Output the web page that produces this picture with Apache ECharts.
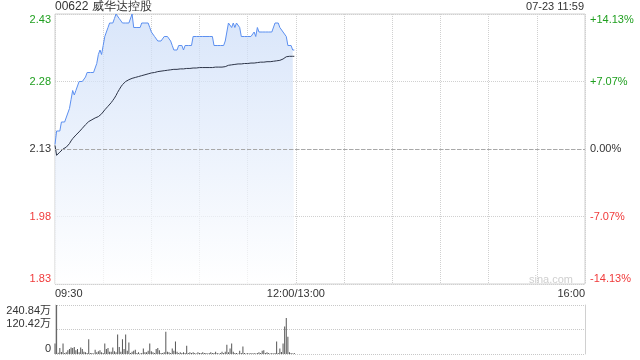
<!DOCTYPE html>
<html>
<head>
<meta charset="utf-8">
<script src="https://cdn.jsdelivr.net/npm/echarts@6/dist/echarts.min.js"></script>
<style>html,body{margin:0;padding:0;background:#fff}#c{width:640px;height:360px}</style>
</head>
<body>
<div id="c"></div>
<script>
// ---- data ----
const stockTitle = '00622 威华达控股';
const stampText = '07-23 11:59';
const prevClose = 2.13;
const priceStep = 0.15;
const priceTickLabels = ['1.83', '1.98', '2.13', '2.28', '2.43'];
const pctTickLabels = ['-14.13%', '-7.07%', '0.00%', '+7.07%', '+14.13%'];
const timeTickLabels = { 0: '09:30', 150: '12:00/13:00', 330: '16:00' };
const volTickLabels = { 0: '0', 120.42: '120.42万', 240.84: '240.84万' };
const volMax = 240.84;

// minute-by-minute price from 09:30 to 11:59
const price = [
  2.14, 2.17, 2.17, 2.17, 2.19, 2.19, 2.19, 2.19, 2.21, 2.22,
  2.24, 2.26, 2.25, 2.26, 2.27, 2.28, 2.28, 2.28, 2.28, 2.29,
  2.30, 2.30, 2.30, 2.30, 2.30, 2.31, 2.32, 2.34, 2.35, 2.34,
  2.36, 2.38, 2.39, 2.40, 2.41, 2.41, 2.41, 2.42, 2.43, 2.43,
  2.42, 2.42, 2.41, 2.41, 2.41, 2.41, 2.41, 2.41, 2.43, 2.40,
  2.40, 2.40, 2.40, 2.40, 2.41, 2.41, 2.41, 2.41, 2.41, 2.40,
  2.39, 2.39, 2.38, 2.38, 2.37, 2.37, 2.37, 2.37, 2.38, 2.38,
  2.38, 2.38, 2.37, 2.36, 2.35, 2.35, 2.35, 2.36, 2.36, 2.36,
  2.35, 2.36, 2.36, 2.36, 2.36, 2.36, 2.38, 2.38, 2.38, 2.38,
  2.38, 2.38, 2.38, 2.38, 2.38, 2.38, 2.38, 2.38, 2.38, 2.36,
  2.36, 2.36, 2.36, 2.36, 2.36, 2.36, 2.37, 2.39, 2.41, 2.41,
  2.40, 2.41, 2.40, 2.41, 2.41, 2.40, 2.38, 2.38, 2.38, 2.38,
  2.38, 2.38, 2.38, 2.38, 2.39, 2.38, 2.40, 2.39, 2.39, 2.39,
  2.39, 2.39, 2.39, 2.39, 2.39, 2.39, 2.39, 2.41, 2.41, 2.41,
  2.40, 2.40, 2.39, 2.39, 2.38, 2.36, 2.36, 2.36, 2.35, 2.35
];

// minute-by-minute average price
const avgPrice = [
  2.138, 2.116, 2.119, 2.123, 2.127, 2.130, 2.132, 2.134, 2.137, 2.142,
  2.148, 2.153, 2.157, 2.161, 2.165, 2.168, 2.172, 2.176, 2.180, 2.184,
  2.188, 2.191, 2.193, 2.195, 2.197, 2.199, 2.200, 2.202, 2.205, 2.208,
  2.212, 2.217, 2.221, 2.225, 2.229, 2.233, 2.238, 2.243, 2.249, 2.256,
  2.262, 2.268, 2.273, 2.277, 2.280, 2.282, 2.284, 2.286, 2.287, 2.288,
  2.289, 2.290, 2.291, 2.292, 2.293, 2.294, 2.295, 2.296, 2.297, 2.298,
  2.299, 2.300, 2.300, 2.301, 2.302, 2.302, 2.303, 2.303, 2.304, 2.305,
  2.305, 2.306, 2.306, 2.306, 2.307, 2.307, 2.307, 2.308, 2.308, 2.308,
  2.308, 2.309, 2.309, 2.309, 2.309, 2.309, 2.310, 2.310, 2.310, 2.310,
  2.311, 2.311, 2.311, 2.311, 2.311, 2.311, 2.311, 2.311, 2.311, 2.311,
  2.312, 2.312, 2.312, 2.312, 2.312, 2.312, 2.313, 2.315, 2.316, 2.317,
  2.317, 2.318, 2.318, 2.318, 2.319, 2.319, 2.319, 2.320, 2.320, 2.320,
  2.320, 2.321, 2.321, 2.321, 2.321, 2.322, 2.322, 2.322, 2.323, 2.323,
  2.323, 2.323, 2.324, 2.324, 2.324, 2.324, 2.325, 2.325, 2.326, 2.327,
  2.327, 2.328, 2.330, 2.333, 2.335, 2.336, 2.336, 2.336, 2.336, 2.336
];

// minute-by-minute volume, in 万 shares
const volume = [
  51, 240.84, 6, 29, 10, 51, 5, 8, 19, 24,
  32, 29, 35, 19, 24, 8, 32, 24, 11, 8,
  5, 72, 5, 5, 3, 21, 8, 13, 19, 8,
  5, 51, 24, 29, 11, 11, 32, 13, 8, 96,
  35, 11, 72, 24, 96, 16, 56, 5, 11, 16,
  21, 5, 8, 3, 5, 27, 8, 8, 16, 51,
  13, 8, 5, 24, 29, 19, 5, 5, 8, 109,
  11, 8, 5, 27, 16, 61, 11, 5, 8, 5,
  8, 5, 40, 5, 8, 5, 8, 5, 3, 8,
  5, 5, 8, 5, 5, 3, 5, 8, 5, 5,
  11, 5, 3, 5, 11, 5, 11, 45, 8, 27,
  51, 11, 5, 5, 3, 16, 5, 37, 5, 3,
  5, 3, 5, 3, 5, 3, 5, 8, 5, 16,
  19, 5, 8, 5, 3, 5, 3, 5, 61, 5,
  27, 10, 51, 135, 177, 85, 8, 5, 3, 5
];

// ---- chart ----
const FONT = 'Arial, "Liberation Sans", "Noto Sans CJK SC", sans-serif';
const toSteps = p => (p - prevClose) / priceStep;
const priceColor = v => { const n = Number(v); return n > 0 ? '#1f9f1f' : (n < 0 ? '#f03a3a' : '#333'); };

const chart = echarts.init(document.getElementById('c'), null, { renderer: 'canvas' });
chart.setOption({
  animation: false,
  backgroundColor: '#fff',
  textStyle: { fontFamily: FONT },
  grid: [
    { left: 55, right: 55, top: 14, height: 270, show: true, borderColor: '#d0d0d0', borderWidth: 1, backgroundColor: 'transparent' },
    { left: 55, right: 55, top: 305, height: 49 }
  ],
  xAxis: [
    {
      type: 'value', gridIndex: 0, min: 0, max: 330, interval: 30,
      axisLine: { show: false }, axisTick: { show: false },
      splitLine: { show: true, lineStyle: { color: '#d0d0d0', type: 'dotted', width: 1 } },
      axisLabel: {
        show: true, margin: 4, fontSize: 11, color: '#333', fontFamily: FONT,
        formatter: v => timeTickLabels[v] || '',
        alignMinLabel: 'left', alignMaxLabel: 'right',
        showMinLabel: true, showMaxLabel: true
      }
    },
    {
      type: 'value', gridIndex: 1, min: 0, max: 330, interval: 30,
      axisLine: { show: false }, axisTick: { show: false },
      splitLine: { show: false }, axisLabel: { show: false }
    }
  ],
  yAxis: [
    {
      type: 'value', gridIndex: 0, min: -2, max: 2, interval: 1, position: 'left',
      axisLine: { show: false }, axisTick: { show: false },
      splitLine: { show: true, lineStyle: { color: '#d0d0d0', type: 'dotted', width: 1 } },
      axisLabel: {
        margin: 4, fontSize: 11, fontFamily: FONT,
        formatter: v => priceTickLabels[Math.round(v) + 2],
        color: priceColor,
        verticalAlignMinLabel: 'bottom', verticalAlignMaxLabel: 'top'
      }
    },
    {
      type: 'value', gridIndex: 0, min: -2, max: 2, interval: 1, position: 'right',
      axisLine: { show: false }, axisTick: { show: false }, splitLine: { show: false },
      axisLabel: {
        margin: 5, fontSize: 11, fontFamily: FONT,
        formatter: v => pctTickLabels[Math.round(v) + 2],
        color: priceColor,
        verticalAlignMinLabel: 'bottom', verticalAlignMaxLabel: 'top'
      }
    },
    {
      type: 'value', gridIndex: 1, min: 0, max: volMax, interval: volMax / 2, position: 'left',
      axisLine: { show: true, lineStyle: { color: '#d0d0d0' } }, axisTick: { show: false },
      splitLine: { show: true, lineStyle: { color: '#c8c8c8', type: 'dotted', width: 1 } },
      axisLabel: {
        margin: 4, fontSize: 11, color: '#333', fontFamily: FONT,
        formatter: v => volTickLabels[Math.round(v * 100) / 100] || '',
        verticalAlign: 'bottom', verticalAlignMaxLabel: 'top'
      }
    },
    {
      type: 'value', gridIndex: 1, min: 0, max: volMax, interval: volMax / 2, position: 'right',
      axisLine: { show: true, lineStyle: { color: '#d0d0d0' } }, axisTick: { show: false },
      splitLine: { show: false }, axisLabel: { show: false }
    }
  ],
  series: [
    {
      name: 'price', type: 'line', xAxisIndex: 0, yAxisIndex: 0,
      data: price.map((p, i) => [i, toSteps(p)]),
      symbol: 'none', smooth: false,
      lineStyle: { color: '#5b8ff0', width: 1 },
      areaStyle: {
        origin: 'start',
        color: new echarts.graphic.LinearGradient(0, 0, 0, 1, [
          { offset: 0, color: '#c9dbf8' },
          { offset: 1, color: '#ffffff' }
        ])
      },
      markLine: {
        silent: true, symbol: 'none', label: { show: false },
        lineStyle: { color: '#a8a8a8', type: [4, 2], width: 1 },
        data: [{ yAxis: 0 }]
      },
      z: 3
    },
    {
      name: 'avg', type: 'line', xAxisIndex: 0, yAxisIndex: 0,
      data: avgPrice.map((p, i) => [i, toSteps(p)]),
      symbol: 'none', lineStyle: { color: '#2d3548', width: 1 }, z: 4
    },
    {
      name: 'volume', type: 'bar', xAxisIndex: 1, yAxisIndex: 2,
      data: volume.map((v, i) => [i, v]),
      barWidth: 1, itemStyle: { color: '#555' }
    }
  ],
  graphic: [
    { type: 'text', left: 55, top: 1, style: { text: stockTitle, fontSize: 12, fill: '#333', font: '12px ' + FONT } },
    { type: 'text', right: 56, top: 1, style: { text: stampText, fontSize: 11, fill: '#333', font: '11px ' + FONT } },
    { type: 'text', right: 67, top: 274, style: { text: 'sina.com', fontSize: 11, fill: '#cfcfcf', font: '11px ' + FONT } }
  ]
});
</script>
</body>
</html>
